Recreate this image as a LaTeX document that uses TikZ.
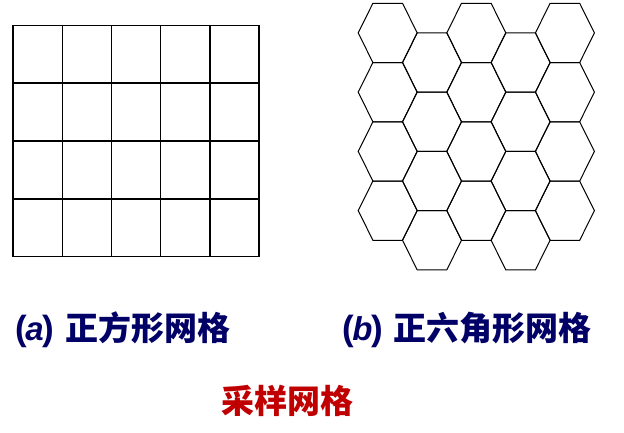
\documentclass[tikz,border=0pt]{standalone}
\usepackage{fontspec}
\setmainfont{Liberation Sans}
\newfontfamily\cjk{Noto Sans CJK SC}
\definecolor{navy}{HTML}{000066}
\definecolor{tred}{HTML}{C00000}
\tikzset{
  sqline/.style={line width=1.4pt, line cap=rect},
  hexline/.style={line width=1pt, line join=miter},
  label/.style={anchor=west, inner sep=0pt, text=navy, font=\fontsize{33}{33}\selectfont\bfseries},
  title/.style={anchor=west, inner sep=0pt, text=tred, font=\fontsize{33}{33}\selectfont\bfseries\cjk}
}
\newcommand\parlabel[1]{{\fontsize{35}{35}\selectfont(}\kern-1.5pt\textit{#1}\kern-1.5pt{\fontsize{35}{35}\selectfont)}}
\begin{document}
\begin{tikzpicture}[x=1pt,y=1pt]
\useasboundingbox (0,0) rectangle (624,432);
% square grid
\foreach \i in {0,...,5} {
  \pgfmathsetmacro\gx{13+49.2*\i}
  \draw[sqline] (\gx,175.3) -- (\gx,406.7);
}
\foreach \j in {0,...,4} {
  \pgfmathsetmacro\gy{175.3+57.85*\j}
  \draw[sqline] (13,\gy) -- (259,\gy);
}
% hexagonal grid
\foreach \i in {0,...,4} {
  \pgfmathsetmacro\cx{387.7+44.3*\i}
  \pgfmathsetmacro\off{mod(\i,2)*29.6}
  \foreach \j in {0,...,3} {
    \pgfmathsetmacro\cy{432-(32.9+\off+59.25*\j)}
    \draw[hexline] (\cx-29.5,\cy) -- (\cx-14.8,\cy+29.62) -- (\cx+14.8,\cy+29.62)
      -- (\cx+29.5,\cy) -- (\cx+14.8,\cy-29.62) -- (\cx-14.8,\cy-29.62) -- cycle;
  }
}
\node[label] (la) at (15,102) {\parlabel{a}\hspace{12pt}{\cjk 正方形网格}};
\node[label] (lb) at (342,102) {\parlabel{b}\hspace{11pt}{\cjk 正六角形网格}};
\node[title] (tt) at (221,31) {采样网格};
\end{tikzpicture}
\end{document}
